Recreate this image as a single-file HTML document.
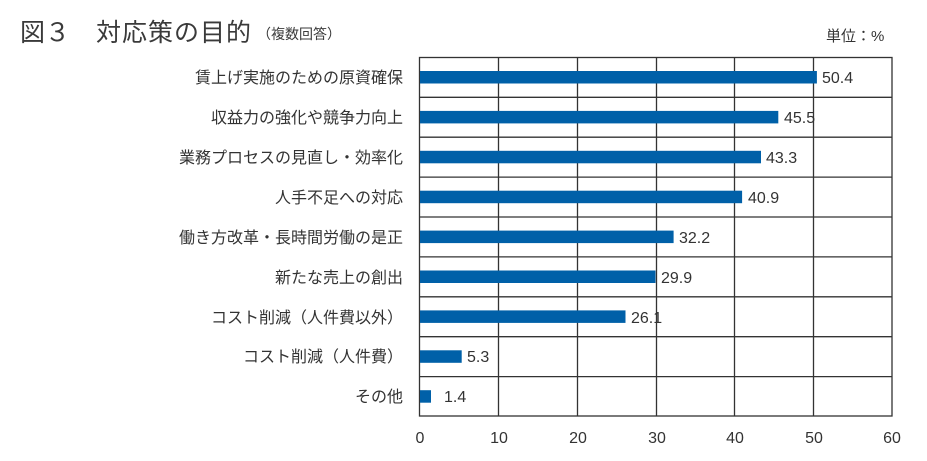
<!DOCTYPE html>
<html><head><meta charset="utf-8"><style>
body{margin:0;background:#fff;width:927px;height:461px;overflow:hidden;font-family:"Liberation Sans","Noto Sans CJK JP",sans-serif;color:#333}
</style></head><body>
<svg width="927" height="461" xmlns="http://www.w3.org/2000/svg" style="position:absolute;left:0;top:0;font-family:'Liberation Sans','Noto Sans CJK JP',sans-serif">
<text x="20" y="41" font-size="25" fill="#3a3a3a">図３</text>
<text x="96" y="41" font-size="25" fill="#3a3a3a" textLength="155">対応策の目的</text>
<text x="257" y="39" font-size="14" fill="#3a3a3a">（複数回答）</text>
<text x="826" y="41" font-size="15" fill="#333">単位：%</text>
<g stroke="#333" stroke-width="1.3" fill="none">
<rect x="419.5" y="57.5" width="472.5" height="358.5"/>
<line x1="498.5" y1="57" x2="498.5" y2="416"/>
<line x1="577.5" y1="57" x2="577.5" y2="416"/>
<line x1="656.5" y1="57" x2="656.5" y2="416"/>
<line x1="734.5" y1="57" x2="734.5" y2="416"/>
<line x1="813.5" y1="57" x2="813.5" y2="416"/>
<line x1="419" y1="97.3" x2="892" y2="97.3"/>
<line x1="419" y1="137.2" x2="892" y2="137.2"/>
<line x1="419" y1="177.1" x2="892" y2="177.1"/>
<line x1="419" y1="217" x2="892" y2="217"/>
<line x1="419" y1="256.9" x2="892" y2="256.9"/>
<line x1="419" y1="296.8" x2="892" y2="296.8"/>
<line x1="419" y1="336.7" x2="892" y2="336.7"/>
<line x1="419" y1="376.6" x2="892" y2="376.6"/>
</g>
<g fill="#0060a8">
<rect x="420" y="71" width="396.9" height="12.5"/>
<rect x="420" y="110.9" width="358.3" height="12.5"/>
<rect x="420" y="150.8" width="341" height="12.5"/>
<rect x="420" y="190.7" width="322.1" height="12.5"/>
<rect x="420" y="230.6" width="253.6" height="12.5"/>
<rect x="420" y="270.5" width="235.5" height="12.5"/>
<rect x="420" y="310.4" width="205.5" height="12.5"/>
<rect x="420" y="350.3" width="41.7" height="12.5"/>
<rect x="420" y="390.2" width="11" height="12.5"/>
</g>
<g font-size="16" fill="#333">
<text x="822" y="83">50.4</text>
<text x="784" y="123">45.5</text>
<text x="766" y="163">43.3</text>
<text x="748" y="203">40.9</text>
<text x="679" y="243">32.2</text>
<text x="661" y="283">29.9</text>
<text x="631" y="323">26.1</text>
<text x="467" y="362">5.3</text>
<text x="444" y="402">1.4</text>
</g>
<g font-size="16" fill="#333" text-anchor="end">
<text x="403" y="83">賃上げ実施のための原資確保</text>
<text x="403" y="123">収益力の強化や競争力向上</text>
<text x="403" y="163">業務プロセスの見直し・効率化</text>
<text x="403" y="203">人手不足への対応</text>
<text x="403" y="243">働き方改革・長時間労働の是正</text>
<text x="403" y="283">新たな売上の創出</text>
<text x="403" y="323">コスト削減（人件費以外）</text>
<text x="403" y="362">コスト削減（人件費）</text>
<text x="403" y="402">その他</text>
</g>
<g font-size="16" fill="#333" text-anchor="middle">
<text x="420" y="443">0</text>
<text x="499" y="443">10</text>
<text x="578" y="443">20</text>
<text x="657" y="443">30</text>
<text x="735" y="443">40</text>
<text x="814" y="443">50</text>
<text x="892" y="443">60</text>
</g>
</svg>
</body></html>
